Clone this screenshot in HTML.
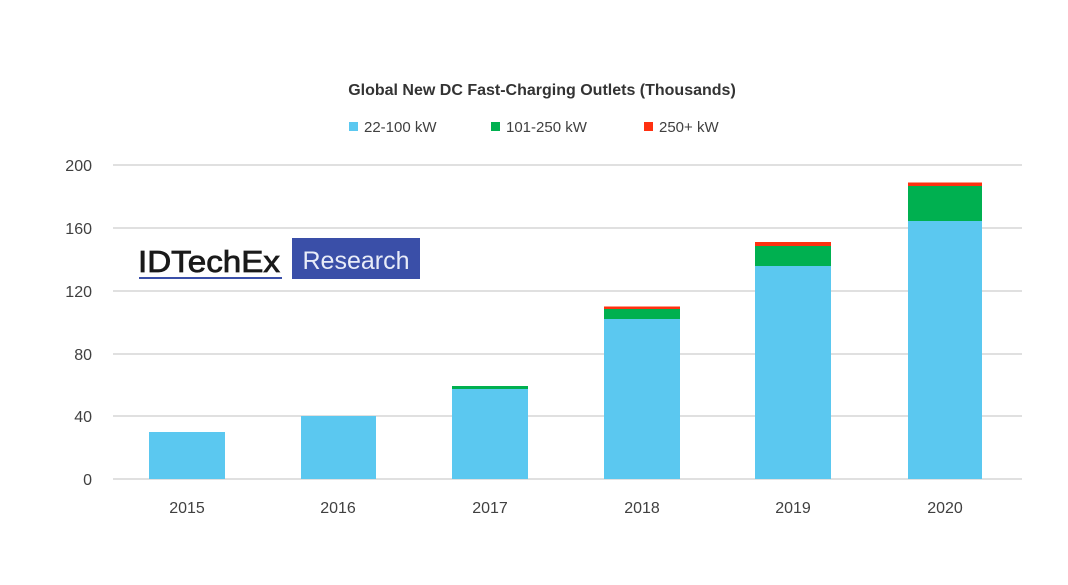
<!DOCTYPE html>
<html><head><style>
body{margin:0;background:#fff;}
svg text{font-family:"Liberation Sans",Arial,sans-serif;}
</style></head><body>
<svg width="1068" height="580" viewBox="0 0 1068 580" xmlns="http://www.w3.org/2000/svg">
<rect width="1068" height="580" fill="#fff"/>
<text x="542" y="95" font-size="16" font-weight="bold" fill="#333" text-anchor="middle">Global New DC Fast-Charging Outlets (Thousands)</text>
<rect x="349" y="122" width="9" height="9" fill="#5bc8f0"/>
<text x="364" y="132" font-size="15" fill="#404040">22-100 kW</text>
<rect x="491" y="122" width="9" height="9" fill="#00b050"/>
<text x="506" y="132" font-size="15" fill="#404040">101-250 kW</text>
<rect x="644" y="122" width="9" height="9" fill="#ff3010"/>
<text x="659" y="132" font-size="15" fill="#404040">250+ kW</text>
<g stroke="#e0e0e0" stroke-width="2">
<line x1="113" x2="1022" y1="165" y2="165"/>
<line x1="113" x2="1022" y1="228" y2="228"/>
<line x1="113" x2="1022" y1="291" y2="291"/>
<line x1="113" x2="1022" y1="354" y2="354"/>
<line x1="113" x2="1022" y1="416" y2="416"/>
<line x1="113" x2="1022" y1="479" y2="479"/>
</g>
<g font-size="16" fill="#404040" text-anchor="end">
<text x="92" y="171">200</text><text x="92" y="234">160</text><text x="92" y="297">120</text>
<text x="92" y="360">80</text><text x="92" y="422">40</text><text x="92" y="485">0</text>
</g>
<g fill="#5bc8f0">
<rect x="149" y="432" width="76" height="47"/>
<rect x="301" y="416" width="75" height="63"/>
<rect x="452" y="389" width="76" height="90"/>
<rect x="604" y="319" width="76" height="160"/>
<rect x="755" y="266" width="76" height="213"/>
<rect x="908" y="221" width="74" height="258"/>
</g>
<g fill="#00b050">
<rect x="452" y="386" width="76" height="3"/>
<rect x="604" y="309" width="76" height="10"/>
<rect x="755" y="246" width="76" height="20"/>
<rect x="908" y="186" width="74" height="35"/>
</g>
<g fill="#ff3010">
<rect x="604" y="306.5" width="76" height="2.5"/>
<rect x="755" y="242" width="76" height="4"/>
<rect x="908" y="182.5" width="74" height="3.5"/>
</g>
<g font-size="16" fill="#404040" text-anchor="middle">
<text x="187" y="513">2015</text><text x="338" y="513">2016</text><text x="490" y="513">2017</text>
<text x="642" y="513">2018</text><text x="793" y="513">2019</text><text x="945" y="513">2020</text>
</g>
<text x="138" y="272" font-size="31" fill="#1a1a1a" stroke="#1a1a1a" stroke-width="0.8" textLength="142" lengthAdjust="spacingAndGlyphs">IDTechEx</text>
<rect x="139" y="277" width="143" height="2" fill="#3a4fa8"/>
<rect x="292" y="238" width="128" height="41" fill="#3a4fa8"/>
<text x="356" y="269" font-size="25" fill="#e8ecf8" text-anchor="middle">Research</text>
</svg>
</body></html>
